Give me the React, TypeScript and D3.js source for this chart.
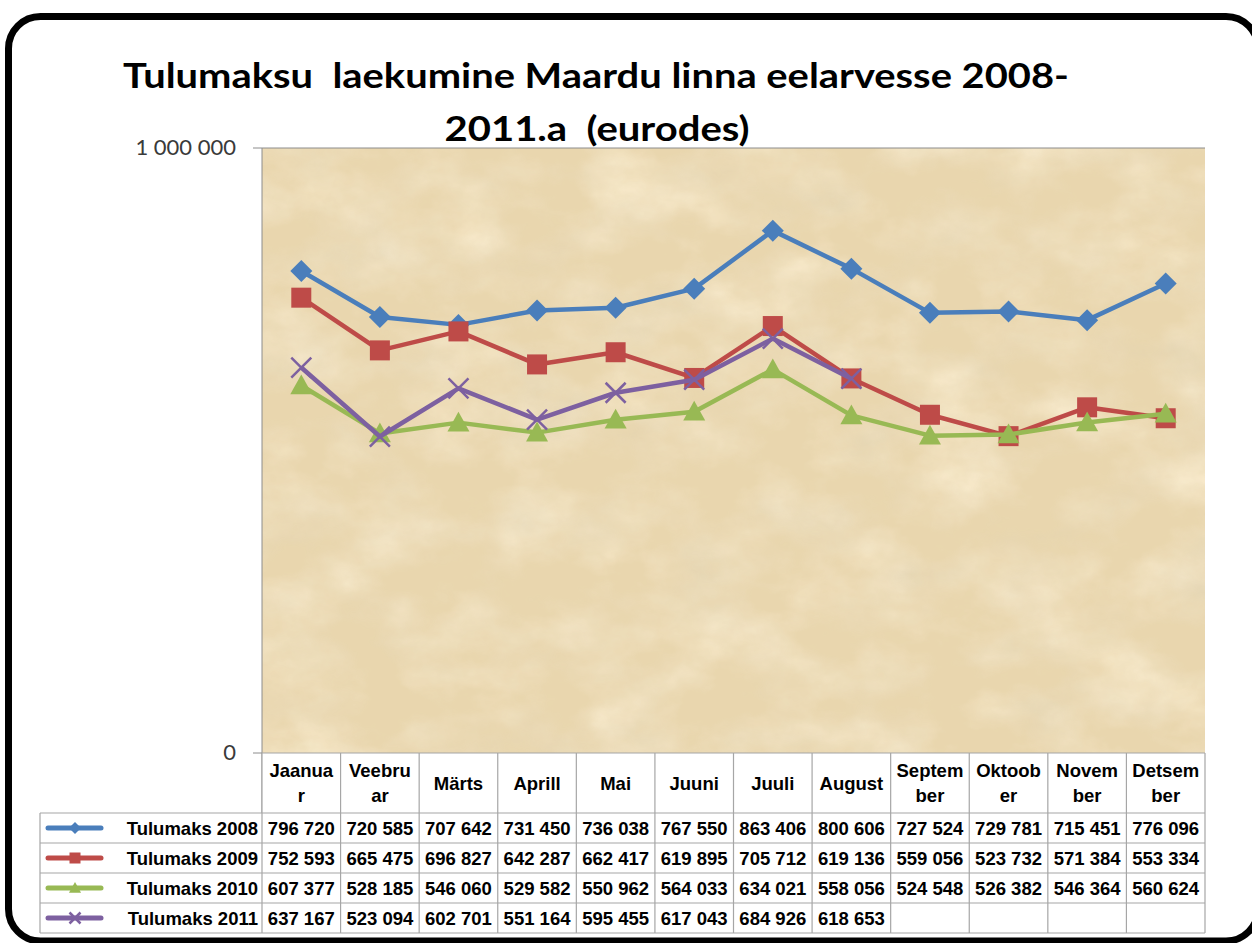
import React from "react";
import * as d3 from "d3";

// Tulumaksu laekumine Maardu linna eelarvesse 2008-2011 (line chart + data table)
const months = ["Jaanuar", "Veebruar", "Märts", "Aprill", "Mai", "Juuni", "Juuli", "August", "September", "Oktoober", "November", "Detsember"];
const monthHeader = [["Jaanua", "r"], ["Veebru", "ar"], ["Märts"], ["Aprill"], ["Mai"], ["Juuni"], ["Juuli"], ["August"], ["Septem", "ber"], ["Oktoob", "er"], ["Novem", "ber"], ["Detsem", "ber"]];

const seriesNames = ["Tulumaks 2008", "Tulumaks 2009", "Tulumaks 2010", "Tulumaks 2011"];
const tulumaks2008 = [796720, 720585, 707642, 731450, 736038, 767550, 863406, 800606, 727524, 729781, 715451, 776096];
const tulumaks2009 = [752593, 665475, 696827, 642287, 662417, 619895, 705712, 619136, 559056, 523732, 571384, 553334];
const tulumaks2010 = [607377, 528185, 546060, 529582, 550962, 564033, 634021, 558056, 524548, 526382, 546364, 560624];
const tulumaks2011 = [637167, 523094, 602701, 551164, 595455, 617043, 684926, 618653, null, null, null, null];
const yTicks = [0, 1000000];

const colors = ["#4a7ebb", "#be4b48", "#98b954", "#7d60a0"];
const markers = ["diamond", "square", "triangle", "x"];

const W = 1252;
const H = 943;
const plot = { left: 262, right: 1205, top: 148, bottom: 753 };
const rowH = 30;
const headerBottom = 813;
const tableLeft = 40;

const fmt = (v: number) => d3.format(",")(v).replace(/,/g, " ");

function Marker({ kind, x, y, color, s = 1 }: { kind: string; x: number; y: number; color: string; s?: number }) {
  if (kind === "diamond") {
    const r = 11 * s;
    return <path d={`M${x},${y - r}L${x + r},${y}L${x},${y + r}L${x - r},${y}Z`} fill={color} />;
  }
  if (kind === "square") {
    const r = 10 * s;
    return <rect x={x - r} y={y - r} width={2 * r} height={2 * r} fill={color} />;
  }
  if (kind === "triangle") {
    const r = 11 * s;
    return <path d={`M${x},${y - r}L${x + r},${y + r * 0.8}L${x - r},${y + r * 0.8}Z`} fill={color} />;
  }
  const r = 10 * s;
  return (
    <path d={`M${x - r},${y - r}L${x + r},${y + r}M${x - r},${y + r}L${x + r},${y - r}`} stroke={color} strokeWidth={2.5} fill="none" />
  );
}

export default function App() {
  const allSeries = [tulumaks2008, tulumaks2009, tulumaks2010, tulumaks2011];
  const x = d3.scaleBand<string>().domain(months).range([plot.left, plot.right]);
  const y = d3.scaleLinear().domain([0, 1000000]).range([plot.bottom, plot.top]);
  const cx = (m: string) => (x(m) as number) + x.bandwidth() / 2;

  const line = d3
    .line<number | null>()
    .defined((d) => d != null)
    .x((_, i) => cx(months[i]))
    .y((d) => y(d as number));

  const tableBottom = headerBottom + rowH * seriesNames.length;
  const font = "'Liberation Sans', Arial, sans-serif";

  return (
    <svg width={W} height={H} style={{ position: "absolute", left: 0, top: 0, background: "#fff" }}>
      <defs>
        <filter id="parchment" x="0" y="0" width="100%" height="100%">
          <feTurbulence type="fractalNoise" baseFrequency="0.012 0.018" numOctaves={5} seed={7} result="noise" />
          <feColorMatrix
            in="noise"
            type="matrix"
            values="0.35 0 0 0 0.72  0.35 0 0 0 0.62  0.35 0 0 0 0.42  0 0 0 1.6 -0.55"
            result="spots"
          />
          <feComposite in="spots" in2="SourceGraphic" operator="in" />
        </filter>
      </defs>

      {/* frame */}
      <rect x={8.5} y={16.5} width={1249.5} height={924.5} rx={32} ry={32} fill="#fff" stroke="#000" strokeWidth={7} />

      {/* title */}
      <g fontFamily="Lato, 'Open Sans', sans-serif" fontWeight="bold" fontSize={35} fill="#000" textAnchor="middle">
        <text x={596} y={88} textLength={946} lengthAdjust="spacingAndGlyphs" style={{ whiteSpace: "pre" }}>
          {"Tulumaksu  laekumine Maardu linna eelarvesse 2008-"}
        </text>
        <text x={597} y={141} textLength={305} lengthAdjust="spacingAndGlyphs" style={{ whiteSpace: "pre" }}>
          {"2011.a  (eurodes)"}
        </text>
      </g>

      {/* plot area */}
      <rect x={plot.left} y={plot.top} width={plot.right - plot.left} height={plot.bottom - plot.top} fill="#e9d6ae" />
      <rect
        x={plot.left}
        y={plot.top}
        width={plot.right - plot.left}
        height={plot.bottom - plot.top}
        fill="#e9d6ae"
        filter="url(#parchment)"
        opacity={0.9}
      />

      {/* y axis */}
      <line x1={plot.left} x2={plot.left} y1={plot.top} y2={tableBottom} stroke="#8c8c8c" />
      {yTicks.map((t) => (
        <g key={t}>
          <line x1={253} x2={t === 0 ? plot.left : plot.right} y1={y(t)} y2={y(t)} stroke="#8c8c8c" />
          <text x={236} y={y(t) + 7} textAnchor="end" fontFamily="Lato, 'Open Sans', sans-serif" fontSize={22} fill="#3a3a3a">
            {fmt(t)}
          </text>
        </g>
      ))}

      {/* series */}
      {allSeries.map((s, k) => (
        <g key={k}>
          <path d={line(s) as string} fill="none" stroke={colors[k]} strokeWidth={4.5} strokeLinejoin="round" />
          {s.map((v, i) =>
            v == null ? null : <Marker key={i} kind={markers[k]} x={cx(months[i])} y={y(v)} color={colors[k]} />
          )}
        </g>
      ))}

      {/* data table */}
      <rect x={tableLeft} y={headerBottom} width={plot.right - tableLeft} height={tableBottom - headerBottom} fill="#fff" />
      <rect x={plot.left} y={plot.bottom} width={plot.right - plot.left} height={headerBottom - plot.bottom} fill="#fff" />
      <g stroke="#a6a6a6" strokeWidth={1.2}>
        <line x1={plot.left} x2={plot.right} y1={plot.bottom} y2={plot.bottom} />
        {d3.range(seriesNames.length + 1).map((r) => (
          <line key={r} x1={tableLeft} x2={plot.right} y1={headerBottom + r * rowH} y2={headerBottom + r * rowH} />
        ))}
        <line x1={tableLeft} x2={tableLeft} y1={headerBottom} y2={tableBottom} />
        {months.map((m) => (
          <line key={m} x1={(x(m) as number) + x.bandwidth()} x2={(x(m) as number) + x.bandwidth()} y1={plot.bottom} y2={tableBottom} />
        ))}
        <line x1={plot.left} x2={plot.left} y1={plot.bottom} y2={tableBottom} />
      </g>

      <g fontFamily={font} fontWeight="bold" fontSize={18.5} fill="#000" textAnchor="middle">
        {months.map((m, i) => {
          const lines = monthHeader[i];
          const y0 = lines.length === 2 ? 777 : 790;
          return (
            <text key={m} x={cx(m)} y={y0}>
              {lines.map((l, j) => (
                <tspan key={j} x={cx(m)} dy={j === 0 ? 0 : 25}>
                  {l}
                </tspan>
              ))}
            </text>
          );
        })}
        {allSeries.map((s, k) =>
          s.map((v, i) =>
            v == null ? null : (
              <text key={`${k}-${i}`} x={cx(months[i])} y={headerBottom + k * rowH + 22}>
                {fmt(v)}
              </text>
            )
          )
        )}
        {seriesNames.map((n, k) => (
          <text key={n} x={258} y={headerBottom + k * rowH + 22} textAnchor="end">
            {n}
          </text>
        ))}
      </g>

      {/* legend keys */}
      {seriesNames.map((n, k) => {
        const cy = headerBottom + k * rowH + 15;
        return (
          <g key={n}>
            <line x1={48} x2={101} y1={cy} y2={cy} stroke={colors[k]} strokeWidth={5} strokeLinecap="round" />
            <Marker kind={markers[k]} x={75} y={cy} color={colors[k]} s={0.55} />
          </g>
        );
      })}
    </svg>
  );
}
